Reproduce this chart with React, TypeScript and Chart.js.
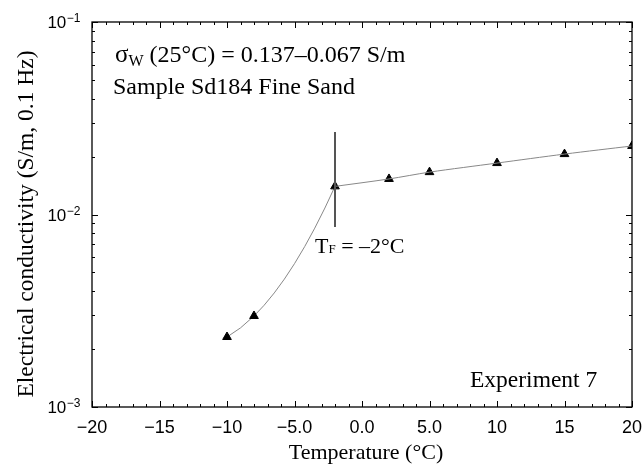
import React, { useEffect, useRef } from "react";
import { Chart, registerables } from "chart.js";

Chart.register(...registerables);

// ---- data ----
const temperatures = [-10, -8, -2, 2, 5, 10, 15, 20];
const conductivity = [0.00231, 0.00297, 0.0140, 0.0153, 0.0166, 0.0185, 0.0206, 0.0227];
const frozenTemps = [-10, -8, -2];
const frozenCond = [0.00231, 0.00297, 0.0140];
const thawedTemps = [-2, 2, 5, 10, 15, 20];
const thawedCond = [0.0140, 0.0153, 0.0166, 0.0185, 0.0206, 0.0227];
const freezingPoint = -2;
const freezeMarkerRange = [0.0086, 0.0268];
const xTickValues = [-20, -15, -10, -5, 0, 5, 10, 15, 20];
const xTickLabels = ["−20", "−15", "−10", "−5.0", "0.0", "5.0", "10", "15", "20"];
const yDecadeExponents = [-3, -2, -1];
const X_MIN = -20;
const X_MAX = 20;
const Y_MIN = 0.001;
const Y_MAX = 0.1;

const SANS = '"Liberation Sans", Arial, sans-serif';
const SERIF = '"Liberation Serif", "Times New Roman", serif';

// smooth (quadratic) curve through the frozen-branch points, drawn via the chart scales
const frozenCurvePlugin = {
  id: "frozenCurvePlugin",
  beforeDatasetsDraw(chart: any) {
    const { ctx } = chart;
    const xs = chart.scales.x;
    const ys = chart.scales.y;
    const px = frozenTemps.map((t) => xs.getPixelForValue(t));
    const py = frozenCond.map((c) => ys.getPixelForValue(c));
    if (px.length < 3) return;
    const s0 = (py[1] - py[0]) / (px[1] - px[0]);
    const s1 = (py[2] - py[1]) / (px[2] - px[1]);
    const c2 = (s1 - s0) / (px[2] - px[0]);
    const deriv = (x: number) => s0 + c2 * ((x - px[0]) + (x - px[1]));
    ctx.save();
    ctx.strokeStyle = "#888";
    ctx.lineWidth = 1;
    ctx.beginPath();
    ctx.moveTo(px[0], py[0]);
    for (let i = 0; i < px.length - 1; i++) {
      const xm = (px[i] + px[i + 1]) / 2;
      const ym = py[i] + deriv(px[i]) * (xm - px[i]);
      ctx.quadraticCurveTo(xm, ym, px[i + 1], py[i + 1]);
    }
    ctx.stroke();
    ctx.restore();
  },
};

const framePlugin = {
  id: "framePlugin",
  afterDraw(chart: any) {
    const { ctx, chartArea } = chart;
    const xs = chart.scales.x;
    const ys = chart.scales.y;
    const { left, right, top, bottom } = chartArea;
    ctx.save();
    // frame
    ctx.strokeStyle = "#000";
    ctx.lineWidth = 1.3;
    ctx.strokeRect(left, top, right - left, bottom - top);

    ctx.lineWidth = 1;
    ctx.beginPath();
    // x ticks (bottom + top, inward)
    for (let v = X_MIN; v <= X_MAX; v += 1) {
      const x = Math.round(xs.getPixelForValue(v)) + 0.5;
      const len = v % 5 === 0 ? 6 : 3;
      ctx.moveTo(x, bottom);
      ctx.lineTo(x, bottom - len);
      ctx.moveTo(x, top);
      ctx.lineTo(x, top + len);
    }
    // y ticks (left + right, inward)
    for (let e = -3; e < -1 + 0.5; e++) {
      for (let m = 1; m <= 9; m++) {
        const val = m * Math.pow(10, e);
        if (val > Y_MAX * 1.0001) break;
        const y = Math.round(ys.getPixelForValue(val)) + 0.5;
        const len = m === 1 ? 6 : 3;
        ctx.moveTo(left, y);
        ctx.lineTo(left + len, y);
        ctx.moveTo(right, y);
        ctx.lineTo(right - len, y);
      }
    }
    ctx.stroke();

    // x tick labels
    ctx.fillStyle = "#000";
    ctx.font = `18px ${SANS}`;
    ctx.textAlign = "center";
    ctx.textBaseline = "alphabetic";
    xTickValues.forEach((v, i) => {
      ctx.fillText(xTickLabels[i], xs.getPixelForValue(v), bottom + 26);
    });

    // y tick labels 10^e
    yDecadeExponents.forEach((e) => {
      const y = ys.getPixelForValue(Math.pow(10, e));
      const sup = "−" + String(-e);
      ctx.font = `17px ${SANS}`;
      const w10 = ctx.measureText("10").width;
      ctx.font = `12px ${SANS}`;
      const wSup = ctx.measureText(sup).width;
      const end = left - 12;
      const start = end - w10 - wSup;
      ctx.textAlign = "left";
      ctx.font = `17px ${SANS}`;
      ctx.fillText("10", start, y + 6);
      ctx.font = `12px ${SANS}`;
      ctx.fillText(sup, start + w10 + 0.5, y);
    });

    // axis titles
    ctx.font = `22px ${SERIF}`;
    ctx.textAlign = "center";
    ctx.fillText("Temperature (°C)", 366, 459);
    ctx.save();
    ctx.translate(33, 224);
    ctx.rotate(-Math.PI / 2);
    ctx.font = `23.5px ${SERIF}`;
    ctx.fillText("Electrical conductivity (S/m, 0.1 Hz)", 0, 0);
    ctx.restore();

    // annotations
    ctx.textAlign = "left";
    const drawRuns = (x: number, y: number, runs: [string, string, number][]) => {
      let cx = x;
      runs.forEach(([txt, font, dy]) => {
        ctx.font = font;
        ctx.fillText(txt, cx, y + dy);
        cx += ctx.measureText(txt).width;
      });
    };
    drawRuns(115, 62, [
      ["σ", `25px ${SERIF}`, 0],
      ["W", `16px ${SERIF}`, 4],
      [" (25°C) = 0.137–0.067 S/m", `24px ${SERIF}`, 0],
    ]);
    ctx.font = `24px ${SERIF}`;
    ctx.fillText("Sample Sd184 Fine Sand", 113, 94);
    drawRuns(315, 253, [
      ["T", `22px ${SERIF}`, 0],
      ["F", `13px ${SERIF}`, 0],
      [" = –2°C", `22px ${SERIF}`, 0],
    ]);
    ctx.font = `23.5px ${SERIF}`;
    ctx.fillText("Experiment 7", 470, 387);
    ctx.restore();
  },
};

export default function App() {
  const ref = useRef<HTMLCanvasElement | null>(null);
  useEffect(() => {
    if (!ref.current) return;
    const chart = new Chart(ref.current, {
      type: "scatter",
      data: {
        datasets: [
          {
            data: [
              { x: freezingPoint, y: freezeMarkerRange[0] },
              { x: freezingPoint, y: freezeMarkerRange[1] },
            ],
            showLine: true,
            borderColor: "#555",
            borderWidth: 2,
            pointRadius: 0,
          },
          {
            data: thawedTemps.map((t, i) => ({ x: t, y: thawedCond[i] })),
            showLine: true,
            borderColor: "#888",
            borderWidth: 1,
            pointRadius: 0,
            tension: 0.3,
          },
          {
            data: temperatures.map((t, i) => ({ x: t, y: conductivity[i] })),
            showLine: false,
            pointStyle: "triangle",
            pointRadius: 5,
            pointBackgroundColor: "#000",
            pointBorderColor: "#000",
            pointBorderWidth: 1,
          },
        ],
      },
      options: {
        animation: false,
        responsive: false,
        maintainAspectRatio: false,
        layout: { padding: { left: 92, right: 12, top: 22, bottom: 57 } },
        plugins: { legend: { display: false }, tooltip: { enabled: false } },
        scales: {
          x: { type: "linear", min: X_MIN, max: X_MAX, display: false },
          y: { type: "logarithmic", min: Y_MIN, max: Y_MAX, display: false },
        },
      },
      plugins: [frozenCurvePlugin, framePlugin],
    } as any);
    return () => chart.destroy();
  }, []);
  return (
    <div style={{ position: "fixed", left: 0, top: 0, width: 644, height: 464, background: "#fff" }}>
      <canvas ref={ref} width={644} height={464} style={{ width: 644, height: 464 }} />
    </div>
  );
}
